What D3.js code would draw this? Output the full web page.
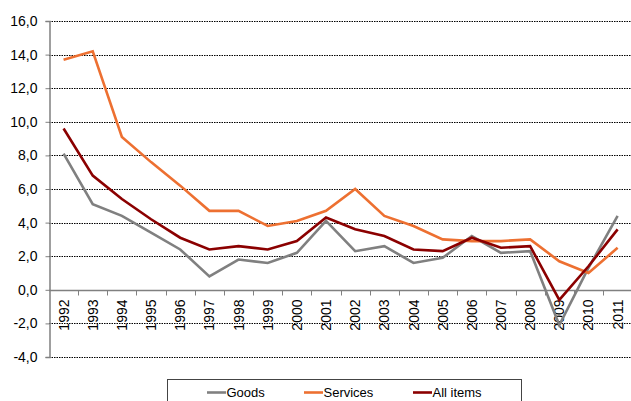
<!DOCTYPE html>
<html>
<head>
<meta charset="utf-8">
<script src="https://cdn.jsdelivr.net/npm/d3@7"></script>
<style>
  html, body { margin: 0; padding: 0; background: #fff; }
  svg { display: block; }
  text { font-family: "Liberation Sans", Arial, sans-serif; fill: #000; }
</style>
</head>
<body>
<script>
// Annual inflation rates, %, by component
const years = ["1992","1993","1994","1995","1996","1997","1998","1999","2000","2001",
               "2002","2003","2004","2005","2006","2007","2008","2009","2010","2011"];
const goods    = [8.1, 5.1, 4.4, 3.4, 2.4, 0.8, 1.8, 1.6, 2.2, 4.1,
                  2.3, 2.6, 1.6, 1.9, 3.2, 2.2, 2.3, -2.1, 1.3, 4.4];
const services = [13.7, 14.2, 9.1, 7.6, 6.2, 4.7, 4.7, 3.8, 4.1, 4.7,
                  6.0, 4.4, 3.8, 3.0, 2.9, 2.9, 3.0, 1.7, 1.0, 2.5];
const allItems = [9.6, 6.8, 5.4, 4.2, 3.1, 2.4, 2.6, 2.4, 2.9, 4.3,
                  3.6, 3.2, 2.4, 2.3, 3.1, 2.5, 2.6, -0.6, 1.4, 3.6];
const yTicks = [-4, -2, 0, 2, 4, 6, 8, 10, 12, 14, 16];

const series = [
  { name: "Goods",     values: goods,    color: "#808080" },
  { name: "Services",  values: services, color: "#ED7031" },
  { name: "All items", values: allItems, color: "#8B0000" }
];

const W = 631, H = 401;
const svg = d3.select("body").append("svg").attr("width", W).attr("height", H);

const x = d3.scaleBand().domain(years).range([49, 632.2]).paddingInner(0).paddingOuter(0);
const y = d3.scaleLinear().domain([-4, 16]).range([357, 21]);
const fmt = v => d3.format(".1f")(v).replace(".", ",").replace("−", "-");

// horizontal dotted gridlines
svg.append("g").selectAll("line")
  .data(yTicks.filter(t => t !== 0))
  .join("line")
  .attr("x1", 49).attr("x2", W)
  .attr("y1", d => Math.round(y(d)) + 0.5).attr("y2", d => Math.round(y(d)) + 0.5)
  .attr("stroke", "#000").attr("stroke-width", 1).attr("stroke-dasharray", "1.5,1");

// y axis
const yAxis = svg.append("g").attr("transform", "translate(49.5,0)")
  .call(d3.axisLeft(y).tickValues(yTicks).tickSize(4).tickPadding(8).tickFormat(fmt));
yAxis.select(".domain").attr("stroke", "#808080").attr("stroke-width", 1.5);
yAxis.selectAll(".tick line").attr("stroke", "#808080");
yAxis.selectAll(".tick text").attr("font-size", 14).attr("font-family", "Liberation Sans, Arial, sans-serif").attr("fill", "#000");

// x axis along zero, tick marks between categories
const xg = svg.append("g").attr("transform", `translate(0,${Math.round(y(0)) + 0.5})`);
xg.append("line").attr("x1", 49).attr("x2", W).attr("stroke", "#808080").attr("stroke-width", 1.5);
xg.selectAll(".tk").data(years.slice(1)).join("line")
  .attr("class", "tk")
  .attr("x1", d => Math.round(x(d)) + 0.5).attr("x2", d => Math.round(x(d)) + 0.5)
  .attr("y1", 0).attr("y2", 5)
  .attr("stroke", "#808080").attr("stroke-width", 1);
xg.selectAll(".lbl").data(years).join("text")
  .attr("class", "lbl")
  .attr("transform", d => `translate(${x(d) + x.bandwidth() / 2 + 5},9) rotate(-90)`)
  .attr("text-anchor", "end")
  .attr("font-size", 14)
  .text(d => d);

// series lines
const line = d3.line()
  .x((d, i) => x(years[i]) + x.bandwidth() / 2)
  .y(d => y(d));
svg.append("g").selectAll("path")
  .data(series)
  .join("path")
  .attr("d", s => line(s.values))
  .attr("fill", "none")
  .attr("stroke", s => s.color)
  .attr("stroke-width", 2.6)
  .attr("stroke-linejoin", "miter");

// legend
const lg = svg.append("g");
lg.append("rect").attr("x", 167.5).attr("y", 379.5).attr("width", 354).attr("height", 30)
  .attr("fill", "#fff").attr("stroke", "#444").attr("stroke-width", 1);
const legendX = [207, 304, 413];
series.forEach((s, i) => {
  lg.append("line").attr("x1", legendX[i]).attr("x2", legendX[i] + 19)
    .attr("y1", 392.5).attr("y2", 392.5)
    .attr("stroke", s.color).attr("stroke-width", 2.6);
  lg.append("text").attr("x", legendX[i] + 19.5).attr("y", 397)
    .attr("font-size", 13).text(s.name);
});
</script>
</body>
</html>
